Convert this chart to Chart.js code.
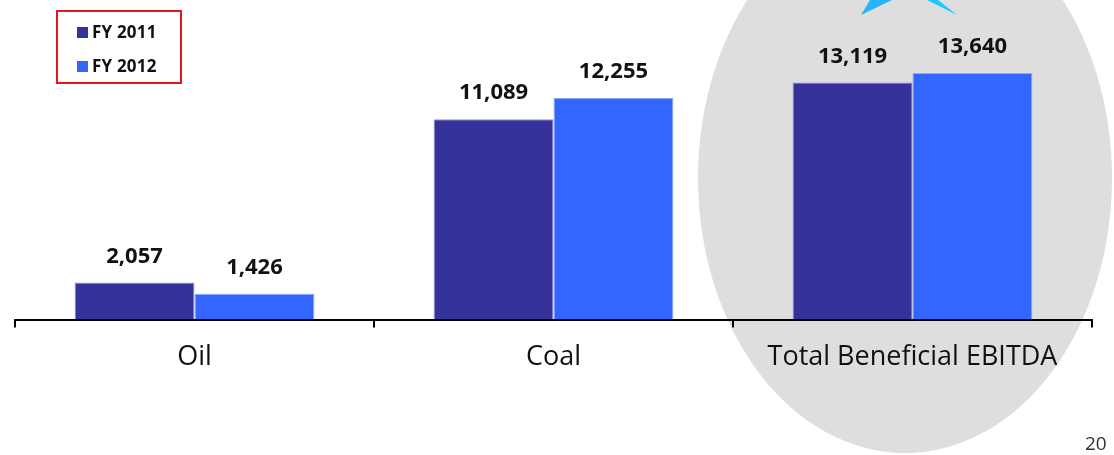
<!DOCTYPE html>
<html>
<head>
<meta charset="utf-8">
<script src="https://cdn.jsdelivr.net/npm/chart.js@4.4.0/dist/chart.umd.min.js"></script>
<style>
  html, body { margin: 0; padding: 0; background: #fff; }
  #wrap { position: relative; width: 1114px; height: 455px; }
  #legend {
    position: absolute; left: 56px; top: 10px; width: 122px; height: 70px;
    border: 2px solid #e8141c; font-family: "Open Sans", sans-serif;
    font-weight: 700; font-size: 17px; color: #111; letter-spacing: 0.2px;
  }
  .item { position: absolute; left: 19px; height: 18px; line-height: 18px; }
  .item span { display: inline-block; width: 11px; height: 11px; margin-right: 4px; vertical-align: 0px; }
  #page { position: absolute; left: 1085px; top: 430px; font-family: "Open Sans", sans-serif; font-size: 19px; color: #333; }
</style>
</head>
<body>
<div id="wrap">
  <canvas id="chart" width="1114" height="455"></canvas>
  <div id="legend">
    <div class="item" style="top:11px"><span style="background:#35339a"></span>FY 2011</div>
    <div class="item" style="top:45px"><span style="background:#3366ff"></span>FY 2012</div>
  </div>
  <div id="page">20</div>
</div>
<script>
const categories = ['Oil', 'Coal', 'Total Beneficial EBITDA'];
const fy2011 = [2057, 11089, 13119];
const fy2012 = [1426, 12255, 13640];
const seriesNames = ['FY 2011', 'FY 2012'];

// grey highlight ellipse and the blue spikes behind the last group
const highlight = {
  id: 'highlight',
  beforeDraw(chart) {
    const ctx = chart.ctx;
    ctx.save();
    ctx.fillStyle = '#fff';
    ctx.fillRect(0, 0, chart.width, chart.height);
    ctx.fillStyle = '#dedede';
    ctx.beginPath();
    ctx.ellipse(905, 178, 207, 275, 0, 0, Math.PI * 2);
    ctx.fill();
    ctx.fillStyle = '#2ab2fb';
    ctx.beginPath();
    ctx.moveTo(861, 15); ctx.lineTo(870, 0); ctx.lineTo(892, 0); ctx.closePath();
    ctx.fill();
    ctx.fillStyle = '#17cbff';
    ctx.beginPath();
    ctx.moveTo(957, 15); ctx.lineTo(938, 0); ctx.lineTo(927, 0); ctx.closePath();
    ctx.fill();
    ctx.restore();
  }
};

const valueLabels = {
  id: 'valueLabels',
  afterDatasetsDraw(chart) {
    const ctx = chart.ctx;
    ctx.save();
    ctx.font = 'bold 22px "Open Sans", sans-serif';
    ctx.fillStyle = '#111';
    ctx.textAlign = 'center';
    ctx.textBaseline = 'middle';
    chart.data.datasets.forEach((ds, i) => {
      chart.getDatasetMeta(i).data.forEach((bar, j) => {
        ctx.fillText(ds.data[j].toLocaleString('en-US'), bar.x, bar.y - 26);
      });
    });
    ctx.restore();
  }
};

new Chart(document.getElementById('chart'), {
  type: 'bar',
  data: {
    labels: categories,
    datasets: [
      { label: seriesNames[0], data: fy2011, backgroundColor: '#35339a', borderColor: '#8f95dc', borderWidth: 1 },
      { label: seriesNames[1], data: fy2012, backgroundColor: '#3366ff', borderColor: '#8fa8ff', borderWidth: 1 }
    ]
  },
  options: {
    responsive: false,
    animation: false,
    categoryPercentage: 0.668,
    barPercentage: 1,
    layout: { padding: { left: 15, right: 22, top: 0, bottom: 67 } },
    plugins: { legend: { display: false }, tooltip: { enabled: false } },
    scales: {
      x: {
        grid: { offset: true, drawOnChartArea: false, drawTicks: true, tickLength: 8, color: '#000', lineWidth: 2 },
        border: { display: true, color: '#000', width: 2 },
        ticks: { padding: 14, color: '#111', font: { family: '"Open Sans", sans-serif', size: 27 } }
      },
      y: { display: false, min: 0, max: 17680 }
    }
  },
  plugins: [highlight, valueLabels]
});
</script>
</body>
</html>
